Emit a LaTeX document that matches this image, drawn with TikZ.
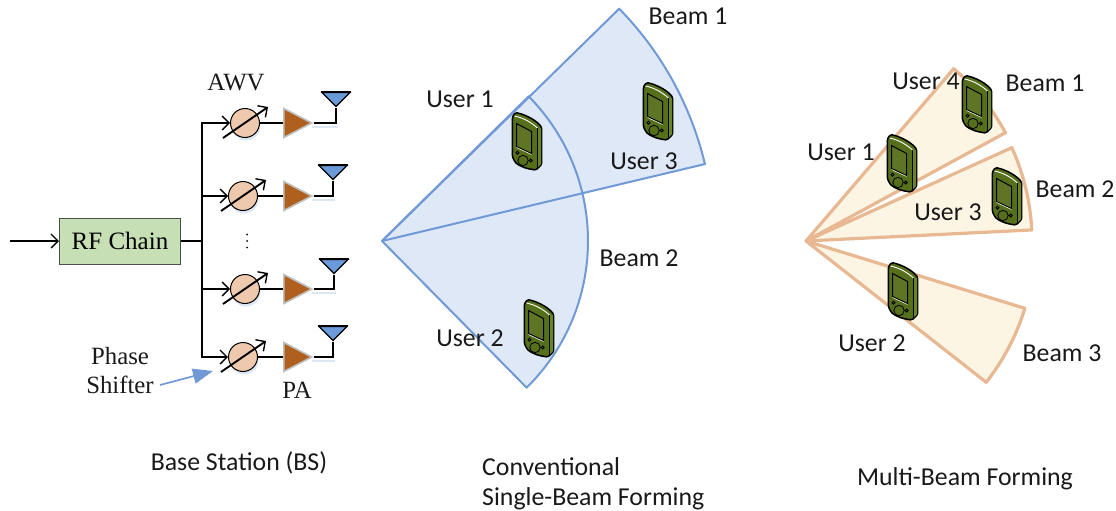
\documentclass[tikz,border=0pt]{standalone}
\usepackage{fontspec}
\setmainfont{Carlito}
\newfontfamily\tnr{Liberation Serif}
\usetikzlibrary{arrows.meta,shapes.geometric}
\definecolor{rfgreen}{HTML}{C6DFB4}
\definecolor{psfill}{HTML}{EEC9AD}
\definecolor{pafill}{HTML}{AF5F1E}
\definecolor{antblue}{HTML}{6A9BD8}
\definecolor{shadowblue}{HTML}{DCE6F5}
\definecolor{sectblue}{HTML}{DEE8F6}
\definecolor{edgeblue}{HTML}{7099D6}
\definecolor{sectcream}{HTML}{FDF5E4}
\definecolor{edgeor}{HTML}{E8B893}
\definecolor{phbody}{HTML}{566F1A}
\definecolor{phlight}{HTML}{6A8526}
\definecolor{phscreen}{HTML}{5F7526}
\tikzset{
  lab/.style={font=\fontsize{25.8}{30}\selectfont,text=black!90,inner sep=0pt},
  serlab/.style={font=\tnr\fontsize{24.8}{29}\selectfont,text=black!90,inner sep=0pt,align=center},
  wire/.style={line width=1.9pt,black},
  barb/.style={-{Straight Barb[length=7pt,width=14pt,line width=1.4pt]}},
  psnode/.style={circle,draw=black,line width=1pt,fill=psfill,minimum size=29pt,inner sep=0pt},
  panode/.style={isosceles triangle,isosceles triangle stretches,shape border rotate=0,draw=black!25,line width=1.6pt,fill=pafill,minimum width=29pt,minimum height=28pt,inner sep=0pt,anchor=lower side},
  antnode/.style={isosceles triangle,isosceles triangle stretches,shape border rotate=270,draw=black,line width=1.2pt,fill=antblue,minimum width=28pt,minimum height=14pt,inner sep=0pt,anchor=apex},
  sectb/.style={fill=sectblue},
  sectbe/.style={draw=edgeblue,line width=2pt,line join=round},
  secto/.style={draw=edgeor,fill=sectcream,line width=3.2pt,line join=round},
  phone/.pic={
    \path[fill=phbody,draw=black,line width=1.5pt,rounded corners=1.5pt]
      (-14.7,-24) -- (-11.5,-28.5) .. controls (0,-26) and (10,-20) .. (14.7,-13.5)
      -- (14.7,23.5) -- (9,29) .. controls (0,28) and (-8,25) .. (-12,21) -- (-14.7,15.5) -- cycle;
    \path[fill=phlight] (10,-13) -- (14,-13) -- (14,23) -- (10,27) -- cycle;
    \draw[white,line width=0.9pt] (-12.5,-25) .. controls (-3,-23) and (5,-18) .. (10.5,-13);
    \draw[black,line width=0.4pt] (10.2,-13) -- (10.2,27.5);
    \draw[fill=phscreen,draw=black,line width=1pt] (-10.5,-17.5) -- (4.5,-9.5) -- (4.5,12.5) -- (-10.5,5.5) -- cycle;
    \draw[white,line width=0.5pt] (-10.5,6.5) -- (4.5,13.5);
    \draw[line width=.8pt] (-9.5,11.7) circle (1.5) (3.8,19.5) circle (1.5) (-4,19.5) circle (5.2);
  }
}
\begin{document}
\begin{tikzpicture}[x=1pt,y=-1pt]
\useasboundingbox (0,0) rectangle (1116,511);
% ---- middle panel sectors
\coordinate (apexA) at (382,241);
\fill[sectb] (apexA) -- ++(44.4:332pt) arc[start angle=44.4,end angle=13.4,radius=332pt] -- cycle;
\fill[sectb] (apexA) -- ++(44.6:206pt) arc[start angle=44.6,end angle=-45.4,radius=206pt] -- cycle;
\draw[sectbe] (apexA) -- ++(44.4:332pt) arc[start angle=44.4,end angle=13.4,radius=332pt] -- cycle;
\draw[sectbe] (apexA) -- ++(44.6:206pt) arc[start angle=44.6,end angle=-45.4,radius=206pt] -- cycle;
% ---- right panel sectors
\coordinate (apexB) at (806,241);
\draw[secto] (apexB) -- ++(49.4:227pt) arc[start angle=49.4,end angle=28.5,radius=227pt] -- cycle;
\draw[secto] (apexB) -- ++(24.4:226pt) arc[start angle=24.4,end angle=2.8,radius=226pt] -- cycle;
\draw[secto] (apexB) -- ++(-17.1:229pt) arc[start angle=-17.1,end angle=-38.1,radius=229pt] -- cycle;
% ---- labels
\node[lab] (b1a) at (688,16) {Beam 1};
\node[lab] (u1a) at (460,99) {User 1};
\node[lab] (u3a) at (644,161) {User 3};
\node[lab] (b2a) at (639,258) {Beam 2};
\node[lab] (u2a) at (470,338) {User 2};
\node[lab] (u4b) at (926,81) {User 4};
\node[lab] (b1b) at (1045,83) {Beam 1};
\node[lab] (u1b) at (841,152) {User 1};
\node[lab] (u3b) at (948,212) {User 3};
\node[lab] (b2b) at (1075,189) {Beam 2};
\node[lab] (u2b) at (872,343) {User 2};
\node[lab] (b3b) at (1062,353) {Beam 3};
\node[lab] (capA) at (239,463) {Base Station (BS)};
\node[lab,align=left,anchor=west] (capB) at (482,483.5) {Conventional\\Single-Beam Forming};
\node[lab] (capC) at (965,479) {Multi-Beam Forming};
% ---- phones
\foreach \px/\py in {527/141,658/111,539/328,977/104,902/163,1007/196,903/291}
  \pic at (\px,\py) {phone};
% ---- base station
\node[draw=black!70,line width=1pt,fill=rfgreen,minimum width=121pt,minimum height=46pt,inner sep=0pt,font=\tnr\fontsize{25}{27}\selectfont] (rf) at (120,241) {RF Chain};
\coordinate (inp) at (10,241);
\draw[line width=1.3pt,barb] (inp) -- (rf.west);
\coordinate (bus) at (202,241);
\draw[line width=2.6pt] (rf.east) -- (bus);
\foreach \n/\y/\cx/\ax/\tp in {1/123/245/336/94,2/196/243/333/167,3/289/245/334/261,4/357/243/333/328}{
  \fill[shadowblue] (\cx+1,\y+3) circle (14.5);
  \fill[shadowblue] (312,\y+2.5) rectangle (\ax+2,\y+5);
  \node[psnode] (ps\n) at (\cx,\y) {};
  \coordinate (pain\n) at (283,\y);
  \coordinate (anttip\n) at (\ax,\tp+14);
  \node[antnode] (ant\n) at (anttip\n) {};
  \draw[line width=1.8pt] (ant\n.left corner) -- (ant\n.right corner);
  \coordinate (br\n) at (202,\y);
  \draw[wire] (ps\n) -- (pain\n);
  \node[panode] (pa\n) at (pain\n) {};
  \draw[wire] (pa\n.apex) -| (ant\n.apex);
  \draw[wire,barb] (br\n) -- (ps\n.west);
  \coordinate (vs\n) at (\cx-22,\y+15);
  \coordinate (ve\n) at (\cx+23,\y-16);
  \draw[wire,barb] (vs\n) -- (ve\n);
}
\draw[line width=1.9pt,line cap=rect] (br1) -- (br4);
\fill[black] (247,234.5) circle (1) (247,241) circle (1) (247,247.5) circle (1);
\node[serlab] (awv) at (236,83) {AWV};
\node[serlab] (pashift) at (120,371) {Phase\\Shifter};
\node[serlab] (patxt) at (297,390) {PA};
\coordinate (psfrom) at (160,385);
\coordinate (pstip) at (213,371);
\draw[edgeblue,line width=1.7pt,-{Triangle[length=20pt,width=15pt]}] (psfrom) -- (pstip);
\end{tikzpicture}
\end{document}
